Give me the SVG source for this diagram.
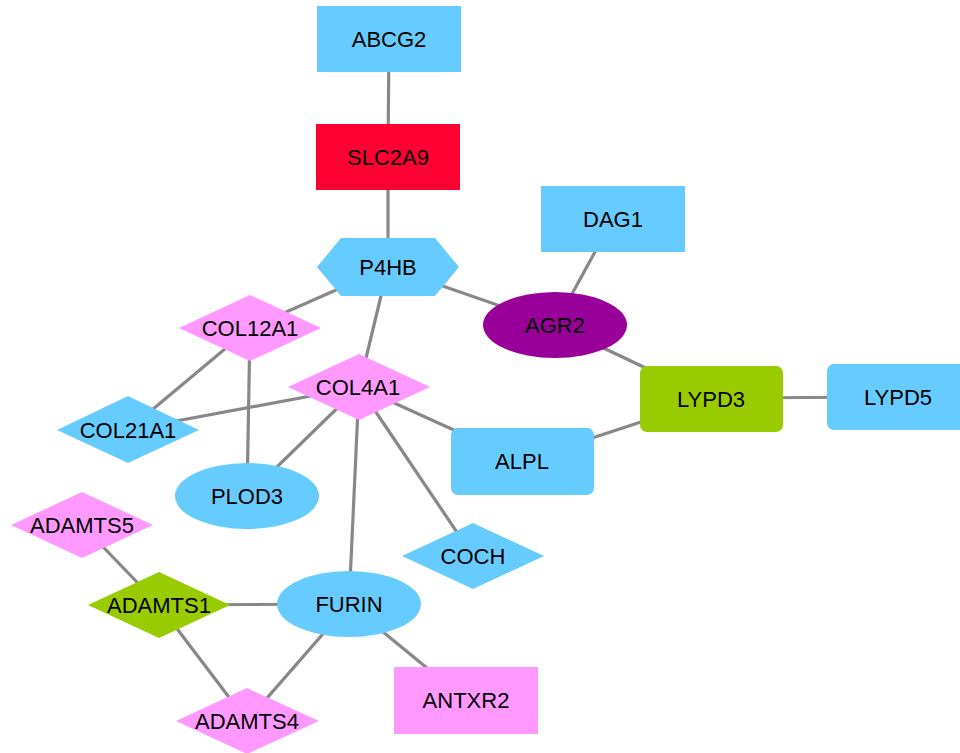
<svg xmlns="http://www.w3.org/2000/svg" width="960" height="753" viewBox="0 0 960 753">
<style>
.e{stroke:#888888;stroke-width:3.2;fill:none}
.t{font-family:"Liberation Sans",Arial,Helvetica,sans-serif;font-size:22px;fill:#000;text-anchor:middle}
.blue{fill:#66ccff}
.red{fill:#ff0033}
.pink{fill:#ff99ff}
.green{fill:#99cc00}
.purple{fill:#990099}
</style>
<rect width="960" height="753" fill="#ffffff"/>
<g id="edges">
<line class="e" x1="389" y1="39" x2="388" y2="157"/>
<line class="e" x1="388" y1="157" x2="388" y2="267"/>
<line class="e" x1="388" y1="267" x2="250" y2="328"/>
<line class="e" x1="388" y1="267" x2="555" y2="325"/>
<line class="e" x1="388" y1="267" x2="359" y2="387"/>
<line class="e" x1="613" y1="219" x2="555" y2="325"/>
<line class="e" x1="555" y1="325" x2="711" y2="399"/>
<line class="e" x1="711" y1="398" x2="898" y2="397"/>
<line class="e" x1="711" y1="399" x2="522" y2="461"/>
<line class="e" x1="250" y1="328" x2="128" y2="430"/>
<line class="e" x1="250" y1="328" x2="247" y2="496"/>
<line class="e" x1="359" y1="387" x2="128" y2="430"/>
<line class="e" x1="359" y1="387" x2="247" y2="496"/>
<line class="e" x1="359" y1="387" x2="522" y2="461"/>
<line class="e" x1="359" y1="387" x2="473" y2="556"/>
<line class="e" x1="359" y1="387" x2="349" y2="604"/>
<line class="e" x1="82" y1="525" x2="159" y2="605"/>
<line class="e" x1="159" y1="605" x2="349" y2="604"/>
<line class="e" x1="159" y1="605" x2="247" y2="721"/>
<line class="e" x1="349" y1="604" x2="247" y2="721"/>
<line class="e" x1="349" y1="604" x2="466" y2="700"/>
</g>
<g id="ABCG2"><rect class="blue" x="317" y="6" width="144" height="66"/><text class="t" x="389" y="47">ABCG2</text></g>
<g id="SLC2A9"><rect class="red" x="316" y="124" width="144" height="66"/><text class="t" x="388" y="165">SLC2A9</text></g>
<g id="P4HB"><polygon class="blue" points="317,267 341,238 435,238 459,267 435,296 341,296"/><text class="t" x="388" y="275">P4HB</text></g>
<g id="DAG1"><rect class="blue" x="541" y="186" width="144" height="66"/><text class="t" x="613" y="227">DAG1</text></g>
<g id="AGR2"><ellipse class="purple" cx="555" cy="325" rx="72" ry="33"/><text class="t" x="555" y="333">AGR2</text></g>
<g id="COL12A1"><polygon class="pink" points="179,328 250,295 321,328 250,361"/><text class="t" x="250" y="336">COL12A1</text></g>
<g id="COL4A1"><polygon class="pink" points="288,387 359,354 430,387 359,420"/><text class="t" x="358" y="395">COL4A1</text></g>
<g id="LYPD3"><rect class="green" x="640" y="366" width="143" height="66" rx="7"/><text class="t" x="711" y="407">LYPD3</text></g>
<g id="LYPD5"><rect class="blue" x="827" y="364" width="143" height="66" rx="7"/><text class="t" x="898" y="405">LYPD5</text></g>
<g id="COL21A1"><polygon class="blue" points="57,430 128,396 199,430 128,463"/><text class="t" x="128" y="438">COL21A1</text></g>
<g id="ALPL"><rect class="blue" x="451" y="428" width="143" height="67" rx="7"/><text class="t" x="522" y="469">ALPL</text></g>
<g id="PLOD3"><ellipse class="blue" cx="247" cy="496" rx="72" ry="33"/><text class="t" x="247" y="504">PLOD3</text></g>
<g id="ADAMTS5"><polygon class="pink" points="11,525 82,492 153,525 82,558"/><text class="t" x="82" y="533">ADAMTS5</text></g>
<g id="COCH"><polygon class="blue" points="402,556 473,523 544,556 473,589"/><text class="t" x="473" y="564">COCH</text></g>
<g id="ADAMTS1"><polygon class="green" points="88,605 159,572 230,605 159,638"/><text class="t" x="159" y="613">ADAMTS1</text></g>
<g id="FURIN"><ellipse class="blue" cx="349" cy="604" rx="72" ry="33"/><text class="t" x="349" y="612">FURIN</text></g>
<g id="ANTXR2"><rect class="pink" x="394" y="667" width="144" height="67"/><text class="t" x="466" y="708">ANTXR2</text></g>
<g id="ADAMTS4"><polygon class="pink" points="176,721 247,688 319,721 247,754"/><text class="t" x="247" y="729">ADAMTS4</text></g>
</svg>
